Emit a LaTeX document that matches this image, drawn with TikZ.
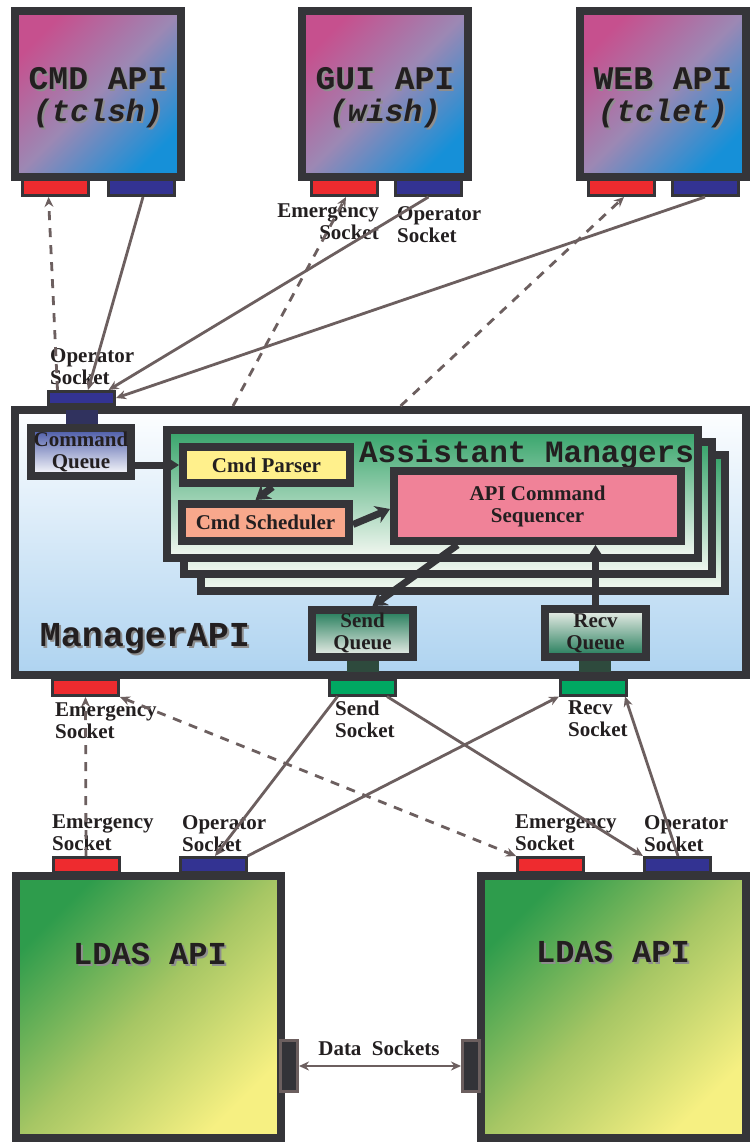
\documentclass[tikz,border=0pt]{standalone}
\usepackage{fontspec}
\setmainfont{Liberation Serif}
\setmonofont{Liberation Mono}
\usetikzlibrary{arrows.meta,calc}
\definecolor{frameC}{HTML}{353539}
\definecolor{apiTop}{HTML}{C6508E}
\definecolor{apiMid}{HTML}{9C88B4}
\definecolor{apiBot}{HTML}{1690D8}
\definecolor{ldTop}{HTML}{2E9C4C}
\definecolor{ldMid}{HTML}{A6C664}
\definecolor{ldBot}{HTML}{F6F082}
\definecolor{mgrTop}{HTML}{FDFEFF}
\definecolor{mgrBot}{HTML}{AED3F0}
\definecolor{amTop}{HTML}{36A46A}
\definecolor{amBot}{HTML}{F4F8F2}
\definecolor{cqTop}{HTML}{4555A5}
\definecolor{cqBot}{HTML}{FFFFFF}
\definecolor{sqTop}{HTML}{1F7A57}
\definecolor{sqBot}{HTML}{F0F1EC}
\definecolor{redS}{HTML}{EE2B2F}
\definecolor{blueS}{HTML}{333392}
\definecolor{greenS}{HTML}{00A862}
\definecolor{opBar}{HTML}{30325E}
\definecolor{sBar}{HTML}{2E4A3D}
\definecolor{parserC}{HTML}{FFF08C}
\definecolor{schedC}{HTML}{F8A88C}
\definecolor{seqC}{HTML}{F08298}
\definecolor{lineC}{HTML}{6C5F5F}
\definecolor{txtC}{HTML}{231F20}
\definecolor{shadowC}{HTML}{8E8E8E}
\definecolor{dataFill}{HTML}{333338}
\newcommand\apifont{\fontsize{33}{33}\selectfont\ttfamily\bfseries}
\newcommand\apiifont{\fontsize{31}{31}\selectfont\ttfamily\bfseries\itshape}
\newcommand\mgrfont{\fontsize{35}{35}\selectfont\ttfamily\bfseries}
\newcommand\ldfont{\fontsize{32}{32}\selectfont\ttfamily\bfseries}
\newcommand\amfont{\fontsize{31}{31}\selectfont\ttfamily\bfseries}
\newcommand\lblfont{\fontsize{21}{22}\selectfont\bfseries}
\newcommand\shadowed[5]{%
  \node[anchor=base, text=shadowC, font=#4, inner sep=0pt] (#1-sh) at ($(#2,#3)+(2,2)$) {#5};
  \node[anchor=base, text=txtC, font=#4, inner sep=0pt] (#1) at (#2,#3) {#5};}
\begin{document}
\begin{tikzpicture}[x=1pt,y=-1pt,
  box/.style={draw=frameC, line width=8pt, inner sep=0pt, rectangle},
  apibox/.style={box, minimum width=166pt, minimum height=166pt, top color=apiTop, bottom color=apiBot, middle color=apiMid, shading angle=45},
  ldbox/.style={box, minimum width=265pt, minimum height=262pt, top color=ldTop, bottom color=ldBot, middle color=ldMid, shading angle=45},
  frm/.style={box, top color=amTop, bottom color=amBot},
  sock/.style={draw=frameC, line width=3pt, minimum width=66pt, minimum height=16pt, inner sep=0pt, rectangle},
  qtext/.style={font=\lblfont, text=txtC, align=center},
  lbl/.style={font=\lblfont, text=txtC, inner sep=0pt, align=left},
  conn/.style={draw=lineC, line width=2.8pt, -{Stealth[length=10pt,width=9pt]}},
  dconn/.style={conn, dash pattern=on 9pt off 8pt},
  both/.style={{Stealth[length=10pt,width=9pt]}-{Stealth[length=10pt,width=9pt]}},
  bigarrow/.style={draw=frameC, line width=7pt, -{Stealth[length=14pt,width=18pt]}}]
\useasboundingbox (0,0) rectangle (751,1142);
\fill[white] (0,0) rectangle (751,1142);

% top API boxes
\node[apibox] (cmd) at (98,94) {};
\node[apibox] (gui) at (385,94) {};
\node[apibox] (web) at (663,94) {};
\node[sock, fill=redS] (cmdE) at (55.5,187.5) {};
\node[sock, fill=blueS] (cmdO) at (141.5,187.5) {};
\node[sock, fill=redS] (guiE) at (344.5,187.5) {};
\node[sock, fill=blueS] (guiO) at (428.5,187.5) {};
\node[sock, fill=redS] (webE) at (621.5,187.5) {};
\node[sock, fill=blueS] (webO) at (705,187.5) {};
\shadowed{cmdT1}{98}{90}{\apifont}{CMD API}
\shadowed{cmdT2}{98}{122}{\apiifont}{(tclsh)}
\shadowed{guiT1}{385}{90}{\apifont}{GUI API}
\shadowed{guiT2}{385}{122}{\apiifont}{(wish)}
\shadowed{webT1}{663}{90}{\apifont}{WEB API}
\shadowed{webT2}{663}{122}{\apiifont}{(tclet)}

% manager
\node[box, minimum width=731pt, minimum height=265pt, top color=mgrTop, bottom color=mgrBot] (mgr) at (380.5,542.5) {};
\fill[opBar] (66,410) rectangle (98,424);
\node[sock, fill=blueS, minimum height=13pt] (mOp) at (81.5,398) {};
\node[box, minimum width=100pt, minimum height=48pt, top color=cqTop, bottom color=cqBot] (cmdQ) at (81,452) {};
\node[qtext, inner sep=0pt] (cmdQT) at (81,452) {Command\\Queue};
\node[frm, minimum width=524pt, minimum height=136pt] (fr3) at (463,523) {};
\node[frm, minimum width=528pt, minimum height=132pt] (fr2) at (448,508) {};
\node[frm, minimum width=531pt, minimum height=128pt] (fr1) at (432.5,494) {};
\node[anchor=base, font=\amfont, text=txtC, inner sep=0pt] (amT) at (526.5,462) {Assistant Managers};
\node[box, fill=parserC, minimum width=167pt, minimum height=36pt, font=\lblfont, text=txtC] (parser) at (266.5,465) {Cmd Parser};
\node[box, fill=schedC, minimum width=167pt, minimum height=37pt, font=\lblfont, text=txtC] (sched) at (265.5,522.5) {Cmd Scheduler};
\node[box, fill=seqC, minimum width=287pt, minimum height=70pt, qtext] (seq) at (537.5,506) {API Command\\Sequencer};
\node[box, minimum width=101pt, minimum height=47pt, top color=sqTop, bottom color=sqBot] (sendQ) at (362.5,633.5) {};
\node[qtext, inner sep=0pt] (sendQT) at (362.5,633) {Send\\Queue};
\node[box, minimum width=101pt, minimum height=48pt, top color=sqBot, bottom color=sqTop] (recvQ) at (595.5,633) {};
\node[qtext, inner sep=0pt] (recvQT) at (595.5,633) {Recv\\Queue};
\fill[sBar] (347,661) rectangle (379,672);
\fill[sBar] (579,661) rectangle (611,672);
\node[sock, fill=redS] (mE) at (85.5,687.5) {};
\node[sock, fill=greenS] (sendS) at (362.5,687) {};
\node[sock, fill=greenS] (recvS) at (593.5,687) {};
\shadowed{mgrT}{145}{646}{\mgrfont}{ManagerAPI}

% internal arrows
\draw[bigarrow] ($(cmdQ.east)+(-3,13)$) -- (parser.west);
\draw[bigarrow] ($(parser.south)+(6,0)$) -- ($(sched.north)+(-10,0)$);
\draw[bigarrow] ($(sched.east)+(0,2)$) -- ($(seq.west)+(0,3)$);
\draw[bigarrow] ($(seq.south)+(-80,0)$) -- ($(sendQ.north)+(10,0)$);
\draw[bigarrow] (recvQ.north) -- (recvQ.north |- seq.south);

% LDAS boxes
\node[ldbox] (ld1) at (148.5,1007) {};
\node[ldbox] (ld2) at (613.5,1007) {};
\node[sock, fill=redS, minimum height=15pt] (ldE1) at (86,865) {};
\node[sock, fill=blueS, minimum height=15pt] (ldO1) at (213,865) {};
\node[sock, fill=redS, minimum height=15pt] (ldE2) at (550.5,865) {};
\node[sock, fill=blueS, minimum height=15pt] (ldO2) at (677.5,865) {};
\shadowed{ld1T}{150}{964}{\ldfont}{LDAS API}
\shadowed{ld2T}{613}{962}{\ldfont}{LDAS API}
\node[draw=lineC, fill=dataFill, line width=3pt, minimum width=17pt, minimum height=51pt, inner sep=0pt] (dsL) at (289,1066) {};
\node[draw=lineC, fill=dataFill, line width=3pt, minimum width=17pt, minimum height=51pt, inner sep=0pt] (dsR) at (471,1066) {};

% labels
\node[lbl, anchor=north west] (lMop) at (50,348) {Operator\\Socket};
\node[lbl, anchor=north east, align=right] (lGE) at (379,204) {Emergency\\Socket};
\node[lbl, anchor=north west] (lGO) at (397,206) {Operator\\Socket};
\node[lbl, anchor=north west] (lME) at (55,703) {Emergency\\Socket};
\node[lbl, anchor=north west] (lSS) at (335,701) {Send\\Socket};
\node[lbl, anchor=north west] (lRS) at (568,701) {Recv\\Socket};
\node[lbl, anchor=north west] (lE1) at (52,815) {Emergency\\Socket};
\node[lbl, anchor=north west] (lO1) at (182,815) {Operator\\Socket};
\node[lbl, anchor=north west] (lE2) at (515,815) {Emergency\\Socket};
\node[lbl, anchor=north west] (lO2) at (644,815) {Operator\\Socket};
\node[lbl, anchor=base] (lDS) at (379,1055) {Data\ \ Sockets};

% connectors top
\draw[conn] ($(cmdO.south)+(1.5,0)$) -- ($(mOp.north)+(6.5,0)$);
\draw[conn] (guiO.south) -- ($(mOp.north)+(27,0)$);
\draw[conn] (webO.south) -- (mOp.east);
\draw[dconn] ($(mOp.north)+(-24,0)$) -- ($(cmdE.south)+(-7,0)$);
\draw[dconn] ($(mgr.north)+(-147.5,0)$) -- ($(guiE.south)+(1.5,0)$);
\draw[dconn] ($(mgr.north)+(20,0)$) -- ($(webE.south)+(2.5,0)$);

% connectors bottom
\draw[dconn] (ldE1.north) -- (mE.south);
\draw[dconn, both] (mE.south east) -- (ldE2.north west);
\draw[conn] ($(sendS.south)+(-25,0)$) -- ($(ldO1.north)+(2,0)$);
\draw[conn] (ldO1.north east) -- (recvS.south west);
\draw[conn] ($(sendS.south east)+(-10,0)$) -- (ldO2.north west);
\draw[conn] ($(ldO2.north)+(0.5,0)$) -- ($(recvS.south east)+(-3,0)$);
\draw[draw=lineC, line width=2.8pt, both] (dsL.east) -- (dsR.west);
\end{tikzpicture}
\end{document}
